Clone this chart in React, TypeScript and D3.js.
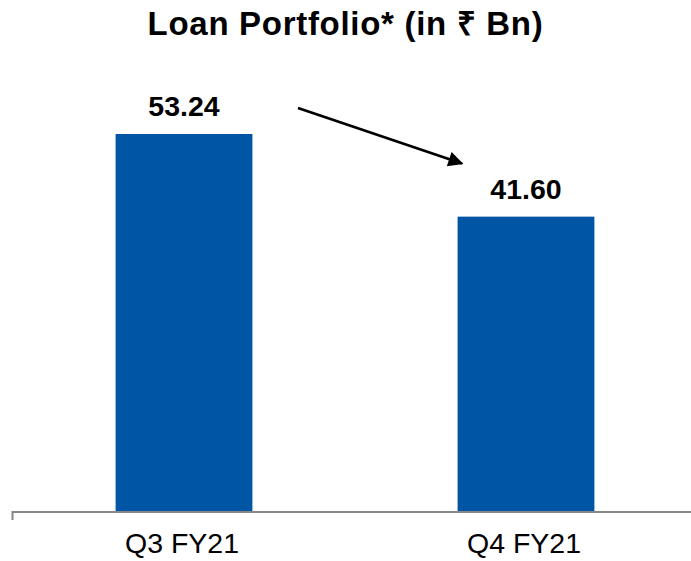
import React from "react";
import * as d3 from "d3";

const width = 691;
const height = 561;

const quarters = ["Q3 FY21", "Q4 FY21"];
const loanValues = [53.24, 41.6];
const valueLabels = ["53.24", "41.60"];
const chartTitle = "Loan Portfolio* (in \u20B9 Bn)";

const baseY = 512;
const font = "Arial, 'Liberation Sans', Helvetica, sans-serif";

export default function App() {
  const xScale = d3
    .scaleBand<string>()
    .domain(quarters)
    .range([13, 697])
    .paddingInner(0.6)
    .paddingOuter(0.3);

  const yScale = d3
    .scaleLinear()
    .domain([0, 60])
    .range([baseY, baseY - 60 * 7.1]);

  const bw = xScale.bandwidth();

  // trend arrow between the two value labels
  const arrowStart: [number, number] = [298, 108];
  const arrowEnd: [number, number] = [462, 163.5];
  const line = d3.line();

  return (
    <div style={{ position: "absolute", left: 0, top: 0 }}>
      <svg width={width} height={height} style={{ display: "block" }}>
        <defs>
          <marker
            id="arrowHead"
            viewBox="0 0 10 10"
            refX="9"
            refY="5"
            markerUnits="userSpaceOnUse"
            markerWidth="17"
            markerHeight="15"
            orient="auto"
          >
            <path d="M0,0 L10,5 L0,10 Z" fill="#000" />
          </marker>
        </defs>

        <text
          x={width / 2}
          y={35}
          textAnchor="middle"
          fontFamily={font}
          fontWeight="bold"
          fontSize={33}
          letterSpacing={0.7}
          fill="#000"
        >
          {chartTitle}
        </text>

        {quarters.map((q, i) => (
          <g key={q}>
            <rect
              x={xScale(q)}
              y={yScale(loanValues[i])}
              width={bw}
              height={baseY - yScale(loanValues[i])}
              fill="#0055a4"
            />
            <text
              x={(xScale(q) as number) + bw / 2}
              y={yScale(loanValues[i]) - 17.5}
              textAnchor="middle"
              fontFamily={font}
              fontWeight="bold"
              fontSize={28.5}
              fill="#000"
            >
              {valueLabels[i]}
            </text>
            <text
              x={(xScale(q) as number) + bw / 2 - 2}
              y={553}
              textAnchor="middle"
              fontFamily={font}
              fontSize={28.5}
              fill="#000"
            >
              {q}
            </text>
          </g>
        ))}

        <path
          d={`M12.5,520 L12.5,${baseY} L${width},${baseY}`}
          fill="none"
          stroke="#888888"
          strokeWidth={2}
        />

        <path
          d={line([arrowStart, arrowEnd]) || ""}
          stroke="#000"
          strokeWidth={2.7}
          fill="none"
          markerEnd="url(#arrowHead)"
        />
      </svg>
    </div>
  );
}
